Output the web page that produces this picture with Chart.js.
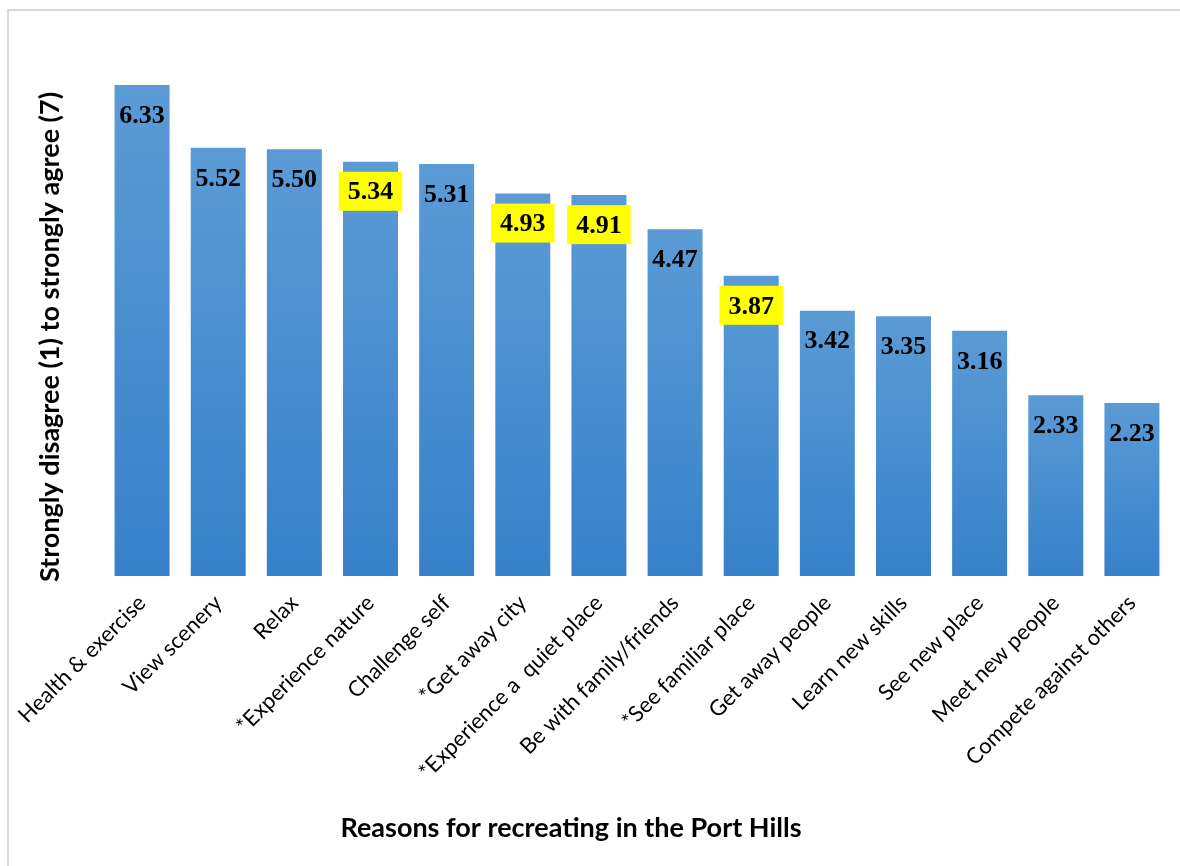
<!DOCTYPE html>
<html>
<head>
<meta charset="utf-8">
<script src="https://cdn.jsdelivr.net/npm/chart.js@4.4.1/dist/chart.umd.min.js"></script>
<style>
  html, body { margin: 0; padding: 0; background: #fff; overflow: hidden; }
  #wrap { position: relative; width: 1180px; height: 866px; }
  #frame { position: absolute; left: 7px; top: 9px; width: 1200px; height: 900px;
           border-top: 2px solid #d9d9d9; border-left: 2px solid #d9d9d9; box-sizing: border-box; }
  canvas { position: absolute; left: 0; top: 0; }
</style>
</head>
<body>
<div id="wrap">
  <div id="frame"></div>
  <canvas id="reasons-chart" width="1180" height="866"></canvas>
</div>
<script>
const categories = [
  "Health & exercise", "View scenery", "Relax", "*Experience nature", "Challenge self",
  "*Get away city", "*Experience a  quiet place", "Be with family/friends", "*See familiar place",
  "Get away people", "Learn new skills", "See new place", "Meet new people", "Compete against others"
];
const meanScores = [6.33, 5.52, 5.50, 5.34, 5.31, 4.93, 4.91, 4.47, 3.87, 3.42, 3.35, 3.16, 2.33, 2.23];
const highlighted = ["*Experience nature", "*Get away city", "*Experience a  quiet place", "*See familiar place"];
const yTitle = "Strongly disagree (1) to strongly agree (7)";
const xTitle = "Reasons for recreating in the Port Hills";

const LABEL_FONT = "bold 26px 'Liberation Serif', 'Times New Roman', serif";
const TITLE_FONT = "bold 27px Lato, 'Open Sans', sans-serif";

function barFill(context) {
  const chart = context.chart;
  const y = chart.scales.y;
  if (!y || context.parsed === undefined) return "#4a90d2";
  const top = y.getPixelForValue(context.parsed.y);
  const base = y.getPixelForValue(0);
  if (!isFinite(top) || !isFinite(base)) return "#4a90d2";
  const g = chart.ctx.createLinearGradient(0, top, 0, base);
  g.addColorStop(0, "#5b9bd5");
  g.addColorStop(1, "#3681ca");
  return g;
}

// value labels sit inside the top of each bar, yellow box for the * items
const valueLabels = {
  id: "valueLabels",
  afterDatasetsDraw(chart) {
    const ctx = chart.ctx;
    const meta = chart.getDatasetMeta(0);
    ctx.save();
    ctx.font = LABEL_FONT;
    ctx.textAlign = "center";
    ctx.textBaseline = "middle";
    meta.data.forEach((bar, i) => {
      const text = meanScores[i].toFixed(2);
      const cy = bar.y + 29;
      if (highlighted.includes(categories[i])) {
        const w = ctx.measureText(text).width + 18;
        ctx.fillStyle = "#ffff00";
        ctx.fillRect(bar.x - w / 2, cy - 19, w, 39);
      }
      ctx.fillStyle = "#000";
      ctx.fillText(text, bar.x, cy + 2);
    });
    ctx.restore();
  }
};

const axisTitles = {
  id: "axisTitles",
  afterDraw(chart) {
    const ctx = chart.ctx;
    ctx.save();
    ctx.font = TITLE_FONT;
    ctx.fillStyle = "#000";
    ctx.textAlign = "center";
    ctx.textBaseline = "middle";
    ctx.fillText(xTitle, 571, 828);
    ctx.translate(50, 337);
    ctx.rotate(-Math.PI / 2);
    ctx.fillText(yTitle, 0, 0);
    ctx.restore();
  }
};

new Chart(document.getElementById("reasons-chart"), {
  type: "bar",
  data: {
    labels: categories,
    datasets: [{
      data: meanScores,
      backgroundColor: barFill,
      borderWidth: 0,
      categoryPercentage: 1,
      barPercentage: 0.722
    }]
  },
  options: {
    responsive: false,
    animation: false,
    devicePixelRatio: 1,
    layout: { padding: { left: 104, right: 10, top: 33, bottom: 50 } },
    plugins: { legend: { display: false }, tooltip: { enabled: false } },
    scales: {
      x: {
        grid: { display: false },
        border: { display: false },
        ticks: {
          color: "#000",
          font: { family: "Lato, 'Open Sans', sans-serif", size: 22 },
          minRotation: 45,
          maxRotation: 45,
          autoSkip: false,
          padding: 6
        },
        afterFit(scale) { scale.height = 240; }
      },
      y: {
        display: false,
        min: 0,
        max: 7
      }
    }
  },
  plugins: [valueLabels, axisTitles]
});
</script>
</body>
</html>
